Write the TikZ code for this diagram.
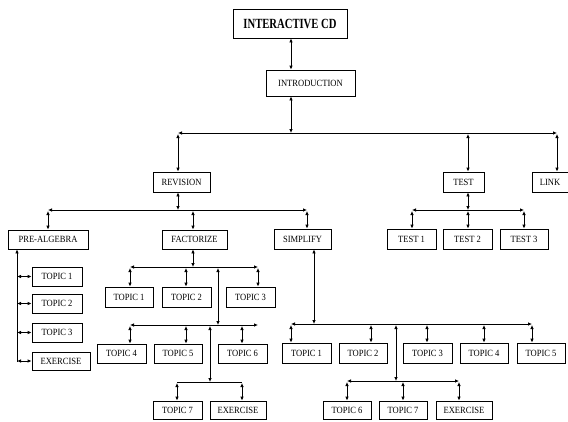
\documentclass[tikz,border=0pt]{standalone}
\usepackage{fontspec}
\setmainfont{Liberation Serif}[FakeStretch=0.9]
\newfontfamily\headfont{Liberation Serif}[FakeStretch=0.76]
\usetikzlibrary{arrows.meta}
\begin{document}
\begin{tikzpicture}[x=1pt,y={(0pt,-1pt)},
  box/.style n args={2}{draw, line width=0.8pt, inner sep=0pt,
    minimum width=#1pt, minimum height=#2pt, font=\fontsize{9.5}{10}\selectfont},
  link/.style={line width=0.8pt, {Latex[length=4pt,width=3.6pt]}-{Latex[length=4pt,width=3.6pt]}},
  uplink/.style={line width=0.8pt, -{Latex[length=4pt,width=3.6pt]}},
  drop/.style={link, shorten <=1pt}]
\useasboundingbox (0,0) rectangle (568,421);

% ---- top of the tree
\node[box={114}{29}, font=\headfont\fontsize{14}{15}\selectfont\bfseries] (cd) at (290,23.5) {INTERACTIVE CD};
\node[box={89}{26}] (intro) at (310.5,83) {INTRODUCTION};
\node[box={57}{20}] (rev) at (181.5,182) {REVISION};
\node[box={41}{20}] (test) at (463.5,182) {TEST};
\node[box={36}{20}] (lnk) at (550,182) {LINK};

\coordinate (m0) at (291,133);
\coordinate (mL) at (178,133);
\coordinate (mT) at (468,133);
\coordinate (mR) at (557,133);

\draw[link] (cd.south -| m0) -- (intro.north -| m0);
\draw[link] (intro.south -| m0) -- (m0);
\draw[link] (mL) -- (mR);
\draw[drop] (mL) -- (mL |- rev.north);
\draw[drop] (mT) -- (mT |- test.north);
\draw[drop] (mR) -- (mR |- lnk.north);

% ---- revision branch
\node[box={80}{19}] (pre) at (48,239.5) {PRE-ALGEBRA};
\node[box={65}{19}] (fac) at (194.5,239.5) {FACTORIZE};
\node[box={57}{20}] (sim) at (302.5,239) {SIMPLIFY};

\coordinate (rA) at (48,210);
\coordinate (rB) at (193,210);
\coordinate (rC) at (307,210);
\draw[link] (rev.south -| mL) -- (mL |- rA);
\draw[link] (rA) -- (rC);
\draw[drop] (rA) -- (rA |- pre.north);
\draw[drop] (rB) -- (rB |- fac.north);
\draw[drop] (rC) -- (rC |- sim.north);

% ---- test branch
\node[box={49}{20}] (t1) at (411.5,239) {TEST 1};
\node[box={49}{20}] (t2) at (467.5,239) {TEST 2};
\node[box={48}{20}] (t3) at (524,239) {TEST 3};

\coordinate (tA) at (412,210);
\coordinate (tB) at (468,210);
\coordinate (tC) at (524,210);
\draw[link] (test.south -| tB) -- (tB);
\draw[link] (tA) -- (tC);
\draw[drop] (tA) -- (tA |- t1.north);
\draw[drop] (tB) -- (tB |- t2.north);
\draw[drop] (tC) -- (tC |- t3.north);

% ---- pre-algebra topics
\node[box={50}{19}] (p1) at (57,276.5) {TOPIC 1};
\node[box={50}{19}] (p2) at (57,303.5) {TOPIC 2};
\node[box={50}{19}] (p3) at (57,332.5) {TOPIC 3};
\node[box={58}{18}] (pe) at (61,361) {EXERCISE};

\coordinate (pv) at (17,362);
\draw[uplink] (pv) -- (pv |- pre.south);
\draw[link] (p1.west -| pv) -- (p1.west);
\draw[link] (p2.west -| pv) -- (p2.west);
\draw[link] (p3.west -| pv) -- (p3.west);
\draw[link] (pe.west -| pv) -- (pe.west);

% ---- factorize topics
\node[box={48}{20}] (f1) at (129,297) {TOPIC 1};
\node[box={49}{20}] (f2) at (186.5,297) {TOPIC 2};
\node[box={49}{20}] (f3) at (250.5,297) {TOPIC 3};
\node[box={49}{19}] (f4) at (121.5,353.5) {TOPIC 4};
\node[box={48}{19}] (f5) at (178,353.5) {TOPIC 5};
\node[box={49}{19}] (f6) at (242.5,353.5) {TOPIC 6};
\node[box={49}{18}] (f7) at (177.5,410) {TOPIC 7};
\node[box={56}{18}] (fe) at (238,410) {EXERCISE};

\coordinate (fA) at (130,267);
\coordinate (fB) at (186,267);
\coordinate (fC) at (258,267);
\coordinate (fD) at (218,267);
\draw[link] (fac.south -| rB) -- (rB |- fA);
\draw[link] (fA) -- (fC);
\draw[drop] (fA) -- (fA |- f1.north);
\draw[drop] (fB) -- (fB |- f2.north);
\draw[drop] (fC) -- (fC |- f3.north);

\coordinate (gA) at (130,325);
\coordinate (gB) at (186,325);
\coordinate (gC) at (242,325);
\coordinate (gE) at (258,325);
\coordinate (gD) at (210,325);
\draw[drop] (fD) -- (fD |- gA);
\draw[link] (gA) -- (gE);
\draw[drop] (gA) -- (gA |- f4.north);
\draw[drop] (gB) -- (gB |- f5.north);
\draw[drop] (gC) -- (gC |- f6.north);

\coordinate (hA) at (177,382);
\coordinate (hB) at (242,382);
\draw[drop] (gD) -- (gD |- hA);
\draw[line width=0.8pt] (hA) -- (hB);
\draw[drop] (hA) -- (hA |- f7.north);
\draw[drop] (hB) -- (hB |- fe.north);

% ---- simplify topics
\node[box={49}{20}] (s1) at (306.5,353) {TOPIC 1};
\node[box={48}{20}] (s2) at (363,353) {TOPIC 2};
\node[box={49}{20}] (s3) at (427.5,353) {TOPIC 3};
\node[box={48}{20}] (s4) at (484,353) {TOPIC 4};
\node[box={48}{20}] (s5) at (541,353) {TOPIC 5};
\node[box={48}{18}] (s6) at (347,410) {TOPIC 6};
\node[box={48}{18}] (s7) at (403,410) {TOPIC 7};
\node[box={56}{18}] (se) at (464,410) {EXERCISE};

\coordinate (sA) at (291,324);
\coordinate (sB) at (371,324);
\coordinate (sC) at (427,324);
\coordinate (sD) at (484,324);
\coordinate (sE) at (532,324);
\coordinate (sV) at (314,324);
\coordinate (sW) at (396,324);
\draw[link] (sim.south -| sV) -- (sV);
\draw[link] (sA) -- (sE);
\draw[drop] (sA) -- (sA |- s1.north);
\draw[drop] (sB) -- (sB |- s2.north);
\draw[drop] (sC) -- (sC |- s3.north);
\draw[drop] (sD) -- (sD |- s4.north);
\draw[drop] (sE) -- (sE |- s5.north);

\coordinate (uA) at (347,381);
\coordinate (uB) at (403,381);
\coordinate (uC) at (459,381);
\draw[drop] (sW) -- (sW |- uA);
\draw[link] (uA) -- (uC);
\draw[drop] (uA) -- (uA |- s6.north);
\draw[drop] (uB) -- (uB |- s7.north);
\draw[drop] (uC) -- (uC |- se.north);
\end{tikzpicture}
\end{document}
